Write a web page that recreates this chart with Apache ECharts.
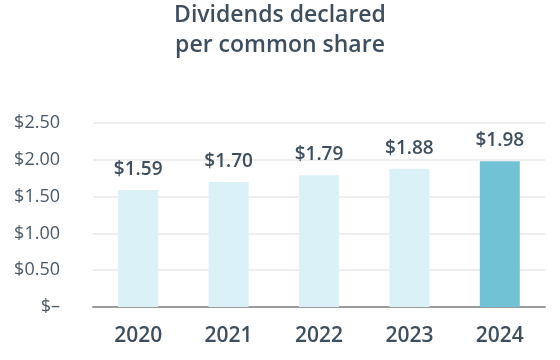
<!DOCTYPE html>
<html><head><meta charset="utf-8">
<script src="https://cdn.jsdelivr.net/npm/echarts@6/dist/echarts.min.js"></script>
<style>html,body{margin:0;padding:0;background:#fff}#c{width:560px;height:360px}</style>
</head><body><div id="c"></div>
<script>
const categories = ['2020','2021','2022','2023','2024'];
const dividends = [1.59, 1.70, 1.79, 1.88, 1.98];
const yTicks = [0, 0.5, 1.0, 1.5, 2.0, 2.5];
const titleText = 'Dividends declared\nper common share';

const chart = echarts.init(document.getElementById('c'));
const textColor = '#3d4f5f';
const font = '"Open Sans"';
chart.setOption({
  animation: false,
  title: {
    text: titleText, left: 'center', top: -5,
    textStyle: { fontFamily: font, fontWeight: 600, fontSize: 23, color: textColor, lineHeight: 30 }
  },
  grid: { left: 93, right: 15, top: 123, bottom: 53 },
  xAxis: {
    type: 'category', data: categories,
    axisLine: { lineStyle: { color: '#9a9a9a', width: 2 } },
    axisTick: { show: false },
    axisLabel: { fontFamily: font, fontWeight: 600, fontSize: 21, color: textColor, margin: 19 }
  },
  yAxis: {
    type: 'value', min: yTicks[0], max: yTicks[yTicks.length - 1], interval: 0.5,
    axisLine: { show: false }, axisTick: { show: false },
    splitLine: { lineStyle: { color: '#e8e8e8', width: 1.5 } },
    axisLabel: {
      fontFamily: font, fontSize: 18, color: '#4a5866', margin: 33,
      formatter: v => v === 0 ? '$\u2013' : '$' + v.toFixed(2)
    }
  },
  series: [{
    type: 'bar', barWidth: 40,
    data: dividends.map((v, i) => ({
      value: v,
      itemStyle: { color: i === dividends.length - 1 ? '#72c2d6' : '#d9f1f7' }
    })),
    label: {
      show: true, position: 'top', distance: 11,
      fontFamily: font, fontWeight: 600, fontSize: 19, color: textColor,
      formatter: p => '$' + p.value.toFixed(2)
    }
  }]
});
</script></body></html>
